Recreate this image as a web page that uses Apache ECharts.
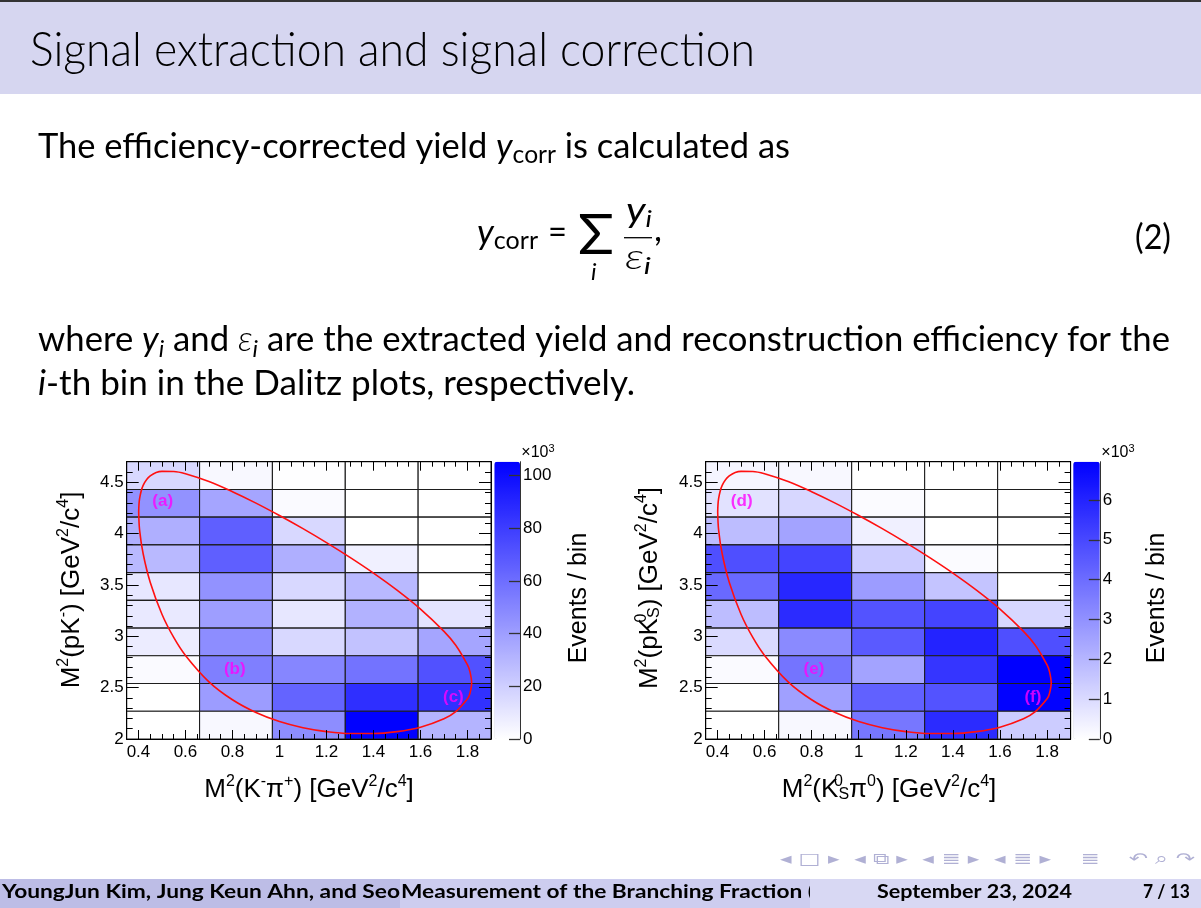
<!DOCTYPE html>
<html><head><meta charset="utf-8">
<script src="https://cdn.jsdelivr.net/npm/echarts@6/dist/echarts.min.js"></script>
<style>html,body{margin:0;padding:0;background:#fff}#c{width:1201px;height:908px}</style>
</head><body><div id="c"></div>
<script>
// ---------------- data ----------------
const xBinEdges = [0.35, 0.66, 0.97, 1.28, 1.59, 1.90];          // M2(K pi) bin edges
const yBinEdges = [2.00, 2.27, 2.54, 2.81, 3.08, 3.35, 3.62, 3.89, 4.16, 4.43, 4.70]; // M2(pK) bin edges
const xRange = [0.35, 1.90];
const yRange = [2.00, 4.70];

// Events / bin (x10^3); rows listed from the top bin (M2(pK) 4.43-4.70) down to the bottom bin
const countsKmPip = [
  [16, 3, 0.5, 0, 0],
  [45, 37, 2, 0, 0],
  [33, 66, 16, 0, 0],
  [29, 66, 33, 6, 0],
  [10, 45, 16, 29, 0],
  [9, 40, 10, 32, 11],
  [8, 47, 16, 25, 37],
  [2, 53, 50, 58, 72],
  [0, 41, 64, 86, 85],
  [0, 3, 47, 105, 31]
];
const countsKsPi0 = [
  [0.27, 0.2, 0, 0, 0],
  [0.8, 1.1, 0.1, 0, 0],
  [1.8, 2.5, 0.4, 0, 0],
  [4.8, 5.1, 1.4, 0.1, 0],
  [4.1, 5.9, 2.7, 1.6, 0],
  [1.8, 5.8, 4.7, 5.1, 1.1],
  [1.0, 3.2, 4.5, 6.0, 4.8],
  [0.15, 3.8, 2.5, 5.5, 6.96],
  [0, 2.6, 4.3, 4.7, 6.9],
  [0, 0.2, 3.7, 5.8, 1.4]
];
const colorMaxKmPip = 105.3;
const colorMaxKsPi0 = 6.96;
const colorTicksKmPip = 20;
const colorTicksKsPi0 = 1;

// Dalitz boundary
const boundaryX = [0.401,0.405,0.42,0.45,0.5,0.55,0.6,0.7,0.8,0.9,1.0,1.1,1.2,1.3,1.4,1.5,1.6,1.7,1.75,1.8,1.81,1.8176,
                   1.81,1.8,1.75,1.7,1.6,1.5,1.4,1.3,1.2,1.1,1.0,0.9,0.8,0.7,0.6,0.55,0.5,0.45,0.42,0.405,0.401];
const boundaryY = [4.211,4.342,4.469,4.562,4.606,4.605,4.583,4.507,4.408,4.297,4.176,4.048,3.912,3.768,3.615,3.449,3.265,3.048,2.913,2.722,2.659,2.545,
                   2.441,2.391,2.266,2.197,2.115,2.072,2.053,2.053,2.072,2.110,2.170,2.258,2.382,2.557,2.814,2.989,3.215,3.527,3.804,4.032,4.211];

// region tags and their anchors (data units)
const tagsLeft = ['(a)', '(b)', '(c)'];
const tagsRight = ['(d)', '(e)', '(f)'];
const tagX = [0.503, 0.81, 1.74];
const tagY = [4.31, 2.68, 2.41];

// ---------------- helpers ----------------
const FONT = 'Liberation Sans';
const BODY = 'Lato, "Noto Sans", sans-serif';
const ctx = document.createElement('canvas').getContext('2d');
function fontStr(r) { return (r.it ? 'italic ' : 'normal ') + (r.wt || 'normal') + ' ' + r.s + 'px ' + (r.f || BODY); }
function measure(r) { ctx.font = fontStr(r); return ctx.measureText(r.t).width; }
const MID = 0.387;
function textRun(runs, x0, baseline, target, color) {
  let x = 0; const kids = [];
  for (const r of runs) {
    const w = measure(r);
    kids.push({type: 'text', x: x, y: baseline + (r.dy || 0) - (r.mid || MID) * r.s,
      style: {text: r.t, font: fontStr(r), fill: color || '#000', align: 'left', verticalAlign: 'middle',
              textAlign: 'left', textVerticalAlign: 'middle'}});
    x += w;
  }
  return {type: 'group', x: x0, y: 0, scaleX: target ? target / x : 1, children: kids};
}
function cells(counts) {
  const out = []; const n = yBinEdges.length - 1;
  counts.forEach((row, r) => {
    const yi = n - 1 - r;
    row.forEach((v, c) => out.push([xBinEdges[c], xBinEdges[c + 1], yBinEdges[yi], yBinEdges[yi + 1], v]));
  });
  return out;
}
const tickRich = {t: {fontSize: 17, fontFamily: FONT, color: '#000', lineHeight: 18}};
const tickFmt = v => '{t|' + v + '}';
function plotAxes(g) {
  const base = {type: 'value', gridIndex: g, splitLine: {show: false}, z: 10, silent: true};
  const tick = (len) => ({show: true, inside: true, length: len, lineStyle: {color: '#000', width: 1}});
  const line = {show: true, onZero: false, lineStyle: {color: '#000', width: 1}};
  const lab = {show: true, formatter: tickFmt, rich: tickRich, showMinLabel: false, showMaxLabel: false};
  const xs = [
    Object.assign({}, base, {min: xRange[0], max: xRange[1], position: 'bottom', splitNumber: 8, axisLine: line, axisTick: tick(9), axisLabel: Object.assign({margin: 4}, lab)}),
    Object.assign({}, base, {min: xRange[0], max: xRange[1], position: 'bottom', interval: 0.05, axisLine: {show: false, onZero: false}, axisTick: tick(5), axisLabel: {show: false}}),
    Object.assign({}, base, {min: xRange[0], max: xRange[1], position: 'top', splitNumber: 8, axisLine: line, axisTick: tick(9), axisLabel: {show: false}}),
    Object.assign({}, base, {min: xRange[0], max: xRange[1], position: 'top', interval: 0.05, axisLine: {show: false, onZero: false}, axisTick: tick(5), axisLabel: {show: false}})
  ];
  const ys = [
    Object.assign({}, base, {min: yRange[0], max: yRange[1], position: 'left', interval: 0.5, axisLine: line, axisTick: tick(12), axisLabel: Object.assign({margin: 3}, lab, {showMinLabel: true})}),
    Object.assign({}, base, {min: yRange[0], max: yRange[1], position: 'left', interval: 0.1, axisLine: {show: false, onZero: false}, axisTick: tick(6), axisLabel: {show: false}}),
    Object.assign({}, base, {min: yRange[0], max: yRange[1], position: 'right', interval: 0.5, axisLine: line, axisTick: tick(12), axisLabel: {show: false}}),
    Object.assign({}, base, {min: yRange[0], max: yRange[1], position: 'right', interval: 0.1, axisLine: {show: false, onZero: false}, axisTick: tick(6), axisLabel: {show: false}})
  ];
  return {xs, ys};
}
function cbAxes(g, max, step) {
  return {
    x: {type: 'value', gridIndex: g, show: false, min: 0, max: 1},
    y: {type: 'value', gridIndex: g, position: 'right', min: 0, max: max, interval: step, z: 10, silent: true,
        splitLine: {show: false},
        axisLine: {show: true, onZero: false, lineStyle: {color: '#333', width: 1}},
        axisTick: {show: true, inside: true, length: 11, lineStyle: {color: '#333', width: 1.3}},
        axisLabel: {formatter: tickFmt, rich: tickRich, margin: 3, showMaxLabel: false}}
  };
}
function heatSeries(xi, yi, counts) {
  return {
    type: 'custom', xAxisIndex: xi, yAxisIndex: yi, z: 2,
    dimensions: ['x0', 'x1', 'y0', 'y1', 'v'],
    encode: {x: [0, 1], y: [2, 3]},
    data: cells(counts),
    renderItem: function (params, api) {
      const p0 = api.coord([api.value(0), api.value(2)]);
      const p1 = api.coord([api.value(1), api.value(3)]);
      return {type: 'rect', shape: {x: p0[0], y: p1[1], width: p1[0] - p0[0], height: p0[1] - p1[1]},
              style: {fill: api.visual('color'), stroke: '#1e1e1e', lineWidth: 1.1}};
    }
  };
}
function boundarySeries(xi, yi) {
  return {type: 'line', xAxisIndex: xi, yAxisIndex: yi, z: 4, showSymbol: false, smooth: 0.35, clip: true,
          lineStyle: {color: '#ff1010', width: 1.6}, silent: true,
          data: boundaryX.map((x, i) => [x, boundaryY[i]])};
}
function tagSeries(xi, yi, tags) {
  return {type: 'scatter', xAxisIndex: xi, yAxisIndex: yi, z: 5, symbolSize: 1, silent: true,
          itemStyle: {color: 'rgba(0,0,0,0)'},
          label: {show: true, position: 'inside', formatter: p => '{g|' + p.data[2] + '}',
                  rich: {g: {color: '#ff00ff', fontWeight: 'bold', fontSize: 17, fontFamily: FONT}}},
          data: tags.map((t, i) => [tagX[i], tagY[i], t])};
}

const L = plotAxes(0), R = plotAxes(1);
const cbL = cbAxes(2, colorMaxKmPip, colorTicksKmPip), cbR = cbAxes(3, colorMaxKsPi0, colorTicksKsPi0);

const RS = {
  n: {fontSize: 26, fontFamily: FONT, color: '#000', lineHeight: 29, verticalAlign: 'bottom'},
  sup: {fontSize: 16, fontFamily: FONT, color: '#000', lineHeight: 15, verticalAlign: 'top'},
  supz: {fontSize: 16, fontFamily: FONT, color: '#000', lineHeight: 15, verticalAlign: 'top', width: 0.1},
  sub: {fontSize: 16, fontFamily: FONT, color: '#000', lineHeight: 12, verticalAlign: 'bottom'}
};
const RX = {
  n: {fontSize: 16, fontFamily: FONT, color: '#000', lineHeight: 18, verticalAlign: 'bottom'},
  sup: {fontSize: 11, fontFamily: FONT, color: '#000', lineHeight: 11, verticalAlign: 'top'}
};
function rich(x, y, text, styles, rot, sx) {
  return {type: 'text', x: x, y: y, rotation: rot || 0, scaleX: sx || 1,
          style: {text: text, rich: styles, align: 'center', verticalAlign: 'middle', textAlign: 'center', textVerticalAlign: 'middle'}};
}

const graphics = [
  {type: 'rect', shape: {x: 0, y: 0, width: 1201, height: 94}, style: {fill: '#d6d6f0'}},
  {type: 'rect', shape: {x: 0, y: 0, width: 1201, height: 2}, style: {fill: '#333'}},
  textRun([{t: 'Signal extraction and signal correction', s: 48, wt: 300}], 30, 69, 725),
  textRun([{t: 'The efficiency-corrected yield ', s: 35}, {t: 'y', s: 35, it: 1}, {t: 'corr', s: 25, dy: 5}, {t: ' is calculated as', s: 35}], 38, 160, 752),
  // equation (2)
  textRun([{t: 'y', s: 35, it: 1}, {t: 'corr', s: 25, dy: 5}], 477, 246, 61),
  textRun([{t: '=', s: 35}], 548, 246, 19),
  textRun([{t: '\u03a3', s: 57}], 578, 258, 36),
  textRun([{t: 'i', s: 24, it: 1}], 591, 282),
  textRun([{t: 'y', s: 35, it: 1}, {t: 'i', s: 24, it: 1, dy: 5}], 626, 224, 26),
  {type: 'line', shape: {x1: 624, y1: 237.7, x2: 652, y2: 237.7}, style: {stroke: '#000', lineWidth: 1.3}},
  textRun([{t: '\u03b5', s: 35, it: 1, wt: 300}, {t: 'i', s: 24, it: 1, dy: 5}], 625, 271, 26),
  textRun([{t: ',', s: 35}], 654, 243),
  textRun([{t: '(2)', s: 35}], 1135, 251, 36),
  textRun([{t: 'where ', s: 35}, {t: 'y', s: 35, it: 1}, {t: 'i', s: 24, it: 1, dy: 5}, {t: ' and ', s: 35}, {t: '\u03b5', s: 35, it: 1, wt: 300}, {t: 'i', s: 24, it: 1, dy: 5},
           {t: ' are the extracted yield and reconstruction efficiency for the', s: 35}], 38, 353.5, 1132),
  textRun([{t: 'i', s: 35, it: 1}, {t: '-th bin in the Dalitz plots, respectively.', s: 35}], 38, 397, 597),
  // plot titles
  rich(309, 788, '{n|M}{sup|2}{n|(K}{sup|-}{n|\u03c0}{sup|+}{n|) [GeV}{sup|2}{n|/c}{sup|4}{n|]}', RS),
  rich(70, 590, '{n|M}{sup|2}{n|(pK}{sup|-}{n|) [GeV}{sup|2}{n|/c}{sup|4}{n|]}', RS, Math.PI / 2),
  rich(889, 788, '{n|M}{sup|2}{n|(K}{supz|0}{sub|S}{n|\u03c0}{sup|0}{n|) [GeV}{sup|2}{n|/c}{sup|4}{n|]}', RS),
  rich(648, 588, '{n|M}{sup|2}{n|(pK}{supz|0}{sub|S}{n|) [GeV}{sup|2}{n|/c}{sup|4}{n|]}', RS, Math.PI / 2),
  rich(579, 598, '{n|Events / bin}', {n: {fontSize: 25, fontFamily: FONT, color: '#000'}}, Math.PI / 2),
  rich(1157, 598, '{n|Events / bin}', {n: {fontSize: 25, fontFamily: FONT, color: '#000'}}, Math.PI / 2),
  rich(538, 452, '{n|\u00d710}{sup|3}', RX),
  rich(1118, 452, '{n|\u00d710}{sup|3}', RX),
  // navigation symbols
  textRun([{t: '\u25c2 \u25a1 \u25b8  \u25c2 \u29c9 \u25b8  \u25c2 \u2263 \u25b8  \u25c2 \u2263 \u25b8    \u2263    \u21b6 \u2315 \u21b7', s: 16, f: '"DejaVu Sans"'}], 780, 866, 415, '#b0b0d4'),
  // footer
  {type: 'rect', shape: {x: 0, y: 879, width: 401, height: 29}, style: {fill: '#bdbde6'}},
  textRun([{t: 'YoungJun Kim, Jung Keun Ahn, and Seo', s: 18, wt: 'bold'}], 2, 899, 398),
  {type: 'rect', shape: {x: 400, y: 879, width: 411, height: 29}, style: {fill: '#cdcdef'}},
  textRun([{t: 'Measurement of the Branching Fraction (', s: 18, wt: 'bold'}], 401, 899, 413),
  {type: 'rect', shape: {x: 810, y: 879, width: 391, height: 29}, style: {fill: '#d8d8f3'}},
  textRun([{t: 'September 23, 2024', s: 18, wt: 'bold'}], 877, 899, 195),
  textRun([{t: '7 / 13', s: 18, wt: 'bold'}], 1143, 899, 47)
];

const option = {
  animation: false,
  backgroundColor: '#ffffff',
  grid: [
    {left: 126.7, top: 461.7, width: 364.3, height: 277.3},
    {left: 705.7, top: 461.7, width: 364.9, height: 277.3},
    {left: 494.3, top: 461.7, width: 25.7, height: 277.3},
    {left: 1073.2, top: 461.7, width: 26.6, height: 277.3}
  ],
  xAxis: [...L.xs, ...R.xs, cbL.x, cbR.x],
  yAxis: [...L.ys, ...R.ys, cbL.y, cbR.y],
  visualMap: [
    {type: 'continuous', seriesIndex: 0, dimension: 4, min: 0, max: colorMaxKmPip, calculable: false, hoverLink: false,
     inRange: {color: ['#ffffff', '#0000ff']}, orient: 'vertical', left: 494.3, top: 461.7, itemWidth: 25.7, itemHeight: 277.3, padding: 0, text: null},
    {type: 'continuous', seriesIndex: 3, dimension: 4, min: 0, max: colorMaxKsPi0, calculable: false, hoverLink: false,
     inRange: {color: ['#ffffff', '#0000ff']}, orient: 'vertical', left: 1073.2, top: 461.7, itemWidth: 26.6, itemHeight: 277.3, padding: 0, text: null}
  ],
  series: [
    heatSeries(0, 0, countsKmPip),
    boundarySeries(0, 0),
    tagSeries(0, 0, tagsLeft),
    heatSeries(4, 4, countsKsPi0),
    boundarySeries(4, 4),
    tagSeries(4, 4, tagsRight)
  ],
  graphic: {elements: graphics}
};
const chart = echarts.init(document.getElementById('c'));
chart.setOption(option);
</script>
</body></html>
